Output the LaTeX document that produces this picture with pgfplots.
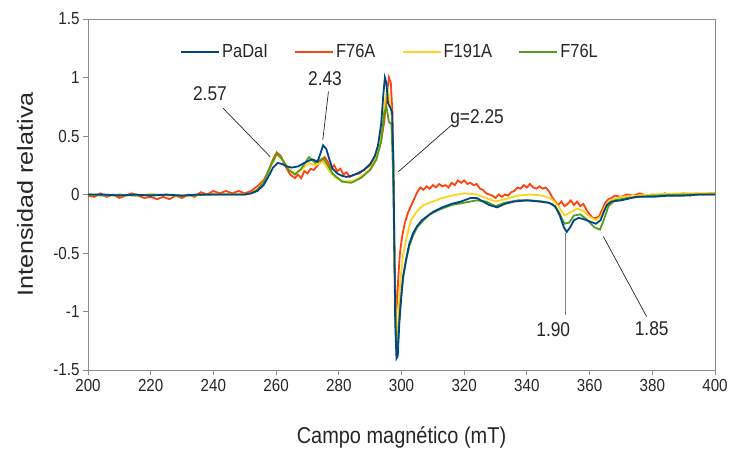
\documentclass[border=0pt]{standalone}
\usepackage{fontspec}
\setmainfont{Liberation Sans}[FakeStretch=0.87]
\newfontfamily\ylabfont{Liberation Sans}[FakeStretch=1.15]
\usepackage{pgfplots}
\pgfplotsset{compat=1.18}
\definecolor{cBlue}{HTML}{004586}
\definecolor{cOrange}{HTML}{FF420E}
\definecolor{cYellow}{HTML}{FFD320}
\definecolor{cGreen}{HTML}{579D1C}
\definecolor{axgray}{HTML}{8C8C8C}
\begin{document}
\begin{tikzpicture}
\path[use as bounding box] (-88bp,-85bp) rectangle (642bp,370bp);
\begin{axis}[
  at={(0,0)}, anchor=south west,
  scale only axis, width=627bp, height=351bp,
  xmin=200, xmax=400, ymin=-1.5, ymax=1.5,
  xtick={200,220,...,400},
  xticklabels={200,220,240,260,280,300,320,340,360,380,400},
  ytick={-1.5,-1,-0.5,0,0.5,1,1.5},
  yticklabels={-1.5,-1,-0.5,0,0.5,1,1.5},
  xtick pos=left, ytick pos=left,
  tick align=outside, major tick length=5bp,
  axis line style={axgray, line width=0.9bp},
  tick style={axgray, line width=0.9bp},
  tick label style={font=\fontsize{17.5}{19}\selectfont, text=black!85},
  xticklabel style={yshift=-1bp},
  xlabel={Campo magnético (mT)},
  xlabel style={at={(axis description cs:0.5,-0.191)}, anchor=center, font=\fontsize{23}{26}\selectfont, text=black!85},
  ylabel={\ylabfont Intensidad relativa},
  ylabel style={at={(axis description cs:-0.1005,0.5)}, anchor=center, font=\fontsize{22}{24}\selectfont, text=black!85},
  legend columns=4,
  legend style={at={(axis cs:296.3,1.22)}, anchor=center, draw=none, fill=none,
    font=\fontsize{19}{21}\selectfont, text=black!85,
    /tikz/every even column/.append style={column sep=24bp}},
  legend image code/.code={\draw[#1, line width=2.2bp] (0bp,0bp) -- (38bp,0bp);},
]
\addlegendimage{cBlue}\addlegendentry{PaDaI}
\addlegendimage{cOrange}\addlegendentry{F76A}
\addlegendimage{cYellow}\addlegendentry{F191A}
\addlegendimage{cGreen}\addlegendentry{F76L}

% F76A
\addplot[cOrange, line width=1.8bp, forget plot] coordinates {
(200,-0.01)(202,-0.02)(204,0.01)(206,-0.02)(208,0.0)(210,-0.03)(212,-0.01)(214,0.01)(216,-0.01)(218,-0.03)
(220,-0.02)(222,-0.04)(224,-0.02)(226,-0.04)(228,-0.01)(230,-0.03)(232,0.0)(234,-0.02)(236,0.02)(238,0.0)
(240,0.03)(242,0.01)(244,0.03)(246,0.01)(248,0.03)(250,0.01)(252,0.03)(254,0.07)(256,0.12)(257.5,0.2)
(259,0.3)(260.2,0.36)(261.5,0.33)(263,0.24)(264.5,0.17)(266,0.14)(267,0.17)(268,0.14)(269,0.2)(270,0.18)
(271,0.22)(272,0.21)(273,0.24)(274,0.28)(275.5,0.32)(276.5,0.28)(277.5,0.22)(278.5,0.25)(279.5,0.2)(280.5,0.22)
(281.5,0.17)(282.5,0.19)(283.5,0.15)(285,0.17)(286.5,0.18)(288,0.21)(289.5,0.24)(291,0.28)(292.5,0.36)(293.5,0.46)
(294.5,0.62)(295.3,0.85)(296.0,1.0)(296.6,0.95)(297.1,0.7)(297.5,0.1)(297.8,-0.6)(298.2,-1.05)(298.6,-0.9)(299,-0.7)
(299.5,-0.5)(300.2,-0.36)(301,-0.25)(302,-0.16)(303,-0.1)(304,-0.04)(305,0.02)(306,0.06)(307,0.04)(308,0.07)
(309,0.05)(310,0.08)(311,0.06)(312,0.09)(313,0.07)(314,0.08)(315,0.06)(316,0.1)(317,0.08)(318,0.12)
(319,0.1)(320,0.12)(321,0.09)(322,0.1)(323,0.08)(324,0.09)(325,0.05)(326,0.04)(327,0.01)(328,0.0)
(329,-0.01)(330,-0.03)(331,0.0)(332,-0.02)(333,0.0)(334,-0.01)(335,0.02)(336,0.03)(337,0.06)(338,0.05)
(339,0.08)(340,0.06)(341,0.09)(342,0.06)(343,0.05)(344,0.07)(345,0.05)(346,0.06)(347,0.03)(348,-0.02)
(349,-0.06)(350,-0.09)(351,-0.06)(352,-0.1)(353,-0.08)(354,-0.05)(355,-0.09)(356,-0.06)(357,-0.1)(358,-0.08)
(359,-0.13)(360,-0.17)(361,-0.2)(362,-0.2)(363,-0.19)(364,-0.13)(365,-0.07)(366,-0.04)(367,-0.03)(368,-0.01)
(370,-0.02)(372,0.0)(374,-0.01)(376,0.01)(378,-0.01)(380,0.0)(382,-0.01)(384,0.01)(386,-0.01)(388,0.0)
(390,0.01)(392,-0.01)(394,0.01)(396,0.0)(398,0.01)(400,0.01)
};
% F191A
\addplot[cYellow, line width=1.8bp, forget plot] coordinates {
(200,0.0)(210,-0.01)(220,0.0)(230,-0.01)(240,0.0)(250,0.0)(252,0.01)(254,0.04)(256,0.1)(258,0.22)
(260.2,0.34)(262,0.3)(264,0.22)(266,0.18)(268,0.21)(270.5,0.27)(272.5,0.25)(275,0.28)(277,0.2)(279,0.14)
(282,0.11)(285,0.12)(288,0.17)(290,0.22)(292,0.32)(293.5,0.5)(294.7,0.8)(295.5,0.9)(296.3,0.8)(297,0.65)
(297.4,0.2)(297.8,-0.6)(298.3,-1.2)(298.6,-1.3)(299,-1.05)(299.6,-0.75)(300.5,-0.52)(301.5,-0.38)(303,-0.22)(305,-0.14)
(307,-0.09)(310,-0.06)(313,-0.03)(316,-0.01)(320,0.01)(324,0.0)(327,-0.03)(330,-0.06)(333,-0.04)(337,-0.01)
(341,0.0)(345,-0.01)(348,-0.04)(350,-0.1)(352,-0.18)(354,-0.15)(356,-0.12)(358,-0.14)(360,-0.19)(362,-0.22)
(363.5,-0.19)(365,-0.1)(366.5,-0.05)(370,-0.02)(375,-0.01)(380,0.0)(390,0.01)(400,0.01)
};
% F76L
\addplot[cGreen, line width=1.8bp, forget plot] coordinates {
(200,0.0)(205,-0.01)(210,0.0)(215,-0.01)(220,0.0)(230,-0.01)(240,0.0)(250,0.0)(252,0.01)(254,0.04)
(256,0.1)(258,0.23)(260.2,0.35)(262,0.3)(264,0.21)(266,0.17)(268,0.22)(270.5,0.32)(272.5,0.27)(275,0.31)
(276.5,0.25)(278,0.18)(281,0.11)(284,0.1)(287,0.14)(290,0.21)(292,0.3)(293.5,0.45)(294.5,0.7)(295.2,0.75)
(296,0.62)(296.8,0.6)(297.3,0.2)(297.8,-0.6)(298.3,-1.3)(298.6,-1.4)(299,-1.2)(299.6,-0.95)(300.5,-0.72)(301.5,-0.56)
(302.5,-0.44)(303.7,-0.35)(305,-0.28)(307,-0.22)(309,-0.17)(312,-0.13)(316,-0.09)(320,-0.07)(324,-0.05)(327,-0.06)
(330,-0.1)(333,-0.07)(337,-0.05)(341,-0.05)(345,-0.06)(348,-0.08)(350,-0.14)(352,-0.25)(353.5,-0.24)(355,-0.18)
(357,-0.17)(359,-0.21)(361.5,-0.28)(363.3,-0.3)(364.5,-0.22)(366,-0.1)(368,-0.05)(372,-0.03)(380,-0.01)(390,0.0)(400,0.0)
};
% PaDaI
\addplot[cBlue, line width=1.8bp, forget plot] coordinates {
(200,0.0)(205,0.0)(210,-0.01)(215,0.0)(220,-0.01)(225,0.0)(230,-0.01)(235,0.0)(240,0.0)(245,0.0)
(250,0.0)(252,0.01)(254,0.03)(256,0.08)(257.5,0.15)(259,0.23)(260.5,0.27)(262,0.26)(263.5,0.24)(265,0.23)
(267,0.24)(269,0.27)(270.5,0.29)(271.5,0.30)(272.5,0.29)(273.2,0.28)(274,0.34)(275,0.42)(276,0.39)(277,0.30)
(278,0.22)(279.5,0.18)(281,0.16)(282.5,0.15)(284,0.16)(286,0.18)(288,0.21)(290,0.26)(291.5,0.33)(292.5,0.42)
(293.5,0.6)(294.2,0.85)(294.7,1.0)(295.2,0.95)(295.7,0.78)(296.5,0.74)(297.0,0.70)(297.4,0.3)(297.7,-0.4)(298.0,-1.1)
(298.4,-1.4)(298.8,-1.38)(299.3,-1.1)(300,-0.85)(300.5,-0.70)(301.5,-0.55)(302.5,-0.42)(303.7,-0.33)(305,-0.27)(306.5,-0.22)
(308,-0.19)(310,-0.15)(313,-0.11)(316,-0.08)(319,-0.06)(322,-0.03)(324,-0.03)(326,-0.06)(328,-0.09)(330.5,-0.11)
(333,-0.08)(336,-0.06)(340,-0.05)(344,-0.06)(347,-0.07)(349,-0.1)(350.5,-0.18)(351.8,-0.28)(352.7,-0.32)(353.8,-0.28)
(355,-0.22)(356.5,-0.2)(358,-0.21)(360,-0.23)(362,-0.25)(363.5,-0.22)(364.5,-0.15)(365.5,-0.09)(367,-0.06)(370,-0.05)
(375,-0.02)(380,-0.02)(385,-0.01)(390,-0.01)(395,0.0)(400,0.0)
};

% annotations
\draw[black!85, line width=0.7bp] (axis cs:243.1,0.737) -- (axis cs:258.1,0.323);
\node[font=\fontsize{20}{22}\selectfont, text=black!85] at (axis cs:238.9,0.865) {2.57};
\draw[black!85, line width=0.7bp] (axis cs:276.7,0.88) -- (axis cs:274.9,0.466);
\node[font=\fontsize{20}{22}\selectfont, text=black!85] at (axis cs:275.6,0.99) {2.43};
\draw[black!85, line width=0.7bp] (axis cs:316,0.594) -- (axis cs:299,0.195);
\node[font=\fontsize{20}{22}\selectfont, text=black!85, anchor=west, inner sep=0pt] at (axis cs:315.5,0.645) {g=2.25};
\draw[gray, line width=0.7bp] (axis cs:352.2,-0.33) -- (axis cs:352.2,-1.03);
\node[font=\fontsize{20}{22}\selectfont, text=black!85] at (axis cs:348.4,-1.158) {1.90};
\draw[black!85, line width=0.7bp] (axis cs:364.4,-0.36) -- (axis cs:378.2,-1.044);
\node[font=\fontsize{20}{22}\selectfont, text=black!85] at (axis cs:379.8,-1.144) {1.85};
\end{axis}
\end{tikzpicture}
\end{document}
